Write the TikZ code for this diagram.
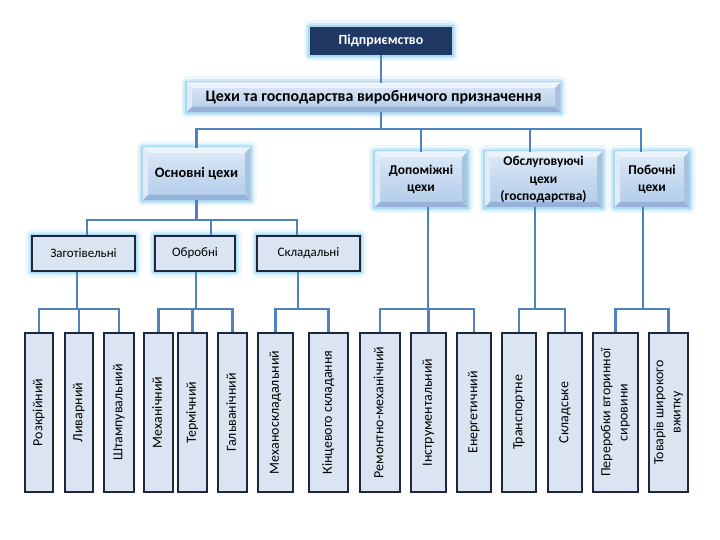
\documentclass[tikz,border=0pt]{standalone}
\usepackage{fontspec}
\setmainfont{Carlito}
\definecolor{conn}{RGB}{79,129,189}
\definecolor{navy}{RGB}{31,56,100}
\definecolor{boxfill}{RGB}{219,229,241}
\definecolor{glow}{RGB}{120,200,235}
\definecolor{bevtop}{RGB}{222,234,247}
\definecolor{bevmid}{RGB}{198,217,240}
\definecolor{bevbot}{RGB}{178,203,233}
\definecolor{bevlight}{RGB}{236,243,251}
\definecolor{bevdark}{RGB}{150,178,214}
\definecolor{leafline}{RGB}{30,40,60}
\tikzset{
  glowbox/.style={preaction={draw=glow, line width=13bp, opacity=0.12, line join=round},
                  preaction={draw=glow, line width=8bp, opacity=0.25, line join=round},
                  preaction={draw=glow, line width=3.5bp, opacity=0.45}},
  bevel/.style={path picture={
      \fill[bevlight] (path picture bounding box.north west) -- (path picture bounding box.north east)
         -- ([shift={(-5bp,-5bp)}]path picture bounding box.north east)
         -- ([shift={(5bp,-5bp)}]path picture bounding box.north west) -- cycle;
      \fill[bevlight!70!bevmid] (path picture bounding box.north west) -- (path picture bounding box.south west)
         -- ([shift={(5bp,5bp)}]path picture bounding box.south west)
         -- ([shift={(5bp,-5bp)}]path picture bounding box.north west) -- cycle;
      \fill[bevdark] (path picture bounding box.south west) -- (path picture bounding box.south east)
         -- ([shift={(-5bp,5bp)}]path picture bounding box.south east)
         -- ([shift={(5bp,5bp)}]path picture bounding box.south west) -- cycle;
      \fill[bevdark!60!bevmid] (path picture bounding box.north east) -- (path picture bounding box.south east)
         -- ([shift={(-5bp,5bp)}]path picture bounding box.south east)
         -- ([shift={(-5bp,-5bp)}]path picture bounding box.north east) -- cycle;
  }},
  topbox/.style={rectangle, glowbox, fill=navy, text=white, inner sep=0pt,
                 font=\bfseries\fontsize{14}{16}\selectfont},
  titlebox/.style={rectangle, glowbox, bevel, top color=bevtop, bottom color=bevbot, middle color=bevmid,
                 inner sep=0pt, font=\bfseries\fontsize{16}{18}\selectfont},
  midbox/.style={rectangle, glowbox, bevel, top color=bevtop, bottom color=bevbot, middle color=bevmid,
                 inner sep=0pt, align=center, font=\bfseries\fontsize{13.5}{17.5}\selectfont},
  groupbox/.style={rectangle, glowbox, fill=boxfill, draw=leafline, line width=1.2bp,
                 inner sep=0pt, minimum height=35bp, font=\fontsize{13}{15}\selectfont},
  leafbox/.style={rectangle, fill=boxfill, draw=leafline, line width=1.2bp, inner sep=0pt,
                 minimum height=159bp, font=\fontsize{14}{17.5}\selectfont},
  conn/.style={draw=conn, line width=2.6bp}
}
\newcommand{\vt}[1]{\rotatebox{90}{\begin{tabular}{@{}c@{}}#1\end{tabular}}}
\begin{document}
\begin{tikzpicture}[x=1bp,y=-1bp]
\useasboundingbox (0,0) rectangle (720,540);
\fill[white] (0,0) rectangle (720,540);

% top levels
\node[topbox, minimum width=142bp, minimum height=28bp] (ent) at (381,41) {Підприємство};
\node[titlebox, minimum width=373bp, minimum height=29bp] (title) at (373.5,97.5) {Цехи та господарства виробничого призначення};

\node[midbox, minimum width=107bp, minimum height=52bp, font=\bfseries\fontsize{14.5}{17}\selectfont] (osn) at (196.5,174) {Основні цехи};
\node[midbox, minimum width=92bp, minimum height=55bp] (dop) at (421,179.5) {Допоміжні\\цехи};
\node[midbox, minimum width=117bp, minimum height=55bp] (obs) at (543.5,179.5) {Обслуговуючі\\цехи\\(господарства)};
\node[midbox, minimum width=74bp, minimum height=55bp] (pob) at (652,179.5) {Побочні\\цехи};

\node[groupbox, minimum width=103bp] (zag) at (83.5,253.5) {Заготівельні};
\node[groupbox, minimum width=80bp] (obr) at (195,253.5) {Обробні};
\node[groupbox, minimum width=103bp] (skl) at (308.5,253.5) {Складальні};

% leaves
\node[leafbox, minimum width=28bp] (l1) at (39,412.5) {\vt{Розкрійний}};
\node[leafbox, minimum width=28bp] (l2) at (79,412.5) {\vt{Ливарний}};
\node[leafbox, minimum width=30bp] (l3) at (119,412.5) {\vt{Штампувальний}};
\node[leafbox, minimum width=29bp] (l4) at (158.5,412.5) {\vt{Механічний}};
\node[leafbox, minimum width=29bp] (l5) at (192.5,412.5) {\vt{Термічний}};
\node[leafbox, minimum width=29bp] (l6) at (232.5,412.5) {\vt{Гальванічний}};
\node[leafbox, minimum width=35bp] (l7) at (275.5,412.5) {\vt{Механоскладальний}};
\node[leafbox, minimum width=39bp] (l8) at (328.5,412.5) {\vt{Кінцевого складання}};
\node[leafbox, minimum width=40bp] (l9) at (380,412.5) {\vt{Ремонтно-механічний}};
\node[leafbox, minimum width=35bp] (l10) at (428.5,412.5) {\vt{Інструментальний}};
\node[leafbox, minimum width=34bp] (l11) at (474,412.5) {\vt{Енергетичний}};
\node[leafbox, minimum width=34bp] (l12) at (519,412.5) {\vt{Транспортне}};
\node[leafbox, minimum width=34bp] (l13) at (565,412.5) {\vt{Складське}};
\node[leafbox, minimum width=45bp] (l14) at (615.5,412.5) {\vt{Переробки вторинної\\сировини}};
\node[leafbox, minimum width=39bp] (l15) at (668.5,412.5) {\vt{Товарів широкого\\вжитку}};

% bus coordinates
\coordinate (bus1) at (381,129);
\coordinate (bus2) at (197,220);
\coordinate (g1) at (77,309);
\coordinate (g2) at (196,309);
\coordinate (g3) at (298,309);
\coordinate (g4) at (428,309);
\coordinate (g5) at (535,309);
\coordinate (g6) at (643,309);

% connectors
\draw[conn] (ent.south -| bus1) -- (title.north -| bus1);
\draw[conn] (title.south -| bus1) -- (bus1);
\draw[conn] (osn.north) |- (bus1) -| (dop.north);
\draw[conn] (bus1) -| ([xshift=-13.5bp]obs.north);
\draw[conn] (bus1) -| ([xshift=-11bp]pob.north);

\draw[conn] (osn.south) -- (osn.south |- bus2);
\draw[conn] ([xshift=3.5bp]zag.north) |- (bus2) -| ([xshift=16bp]obr.north);
\draw[conn] (bus2) -| ([xshift=-11.5bp]skl.north);

\draw[conn] (zag.south -| g1) -- (g1);
\draw[conn] (l1.north) |- (g1) -| (l3.north);
\draw[conn] (g1) -| (l2.north);

\draw[conn] (obr.south -| g2) -- (g2);
\draw[conn] (l4.north) |- (g2) -| (l6.north);
\draw[conn] (g2) -| (l5.north);

\draw[conn] (skl.south -| g3) -- (g3);
\draw[conn] (l7.north) |- (g3) -| (l8.north);

\draw[conn] (dop.south -| g4) -- (g4);
\draw[conn] (l9.north) |- (g4) -| (l11.north);
\draw[conn] (g4) -| (l10.north);

\draw[conn] (obs.south -| g5) -- (g5);
\draw[conn] (l12.north) |- (g5) -| (l13.north);

\draw[conn] (pob.south -| g6) -- (g6);
\draw[conn] (l14.north) |- (g6) -| (l15.north);
\end{tikzpicture}
\end{document}
